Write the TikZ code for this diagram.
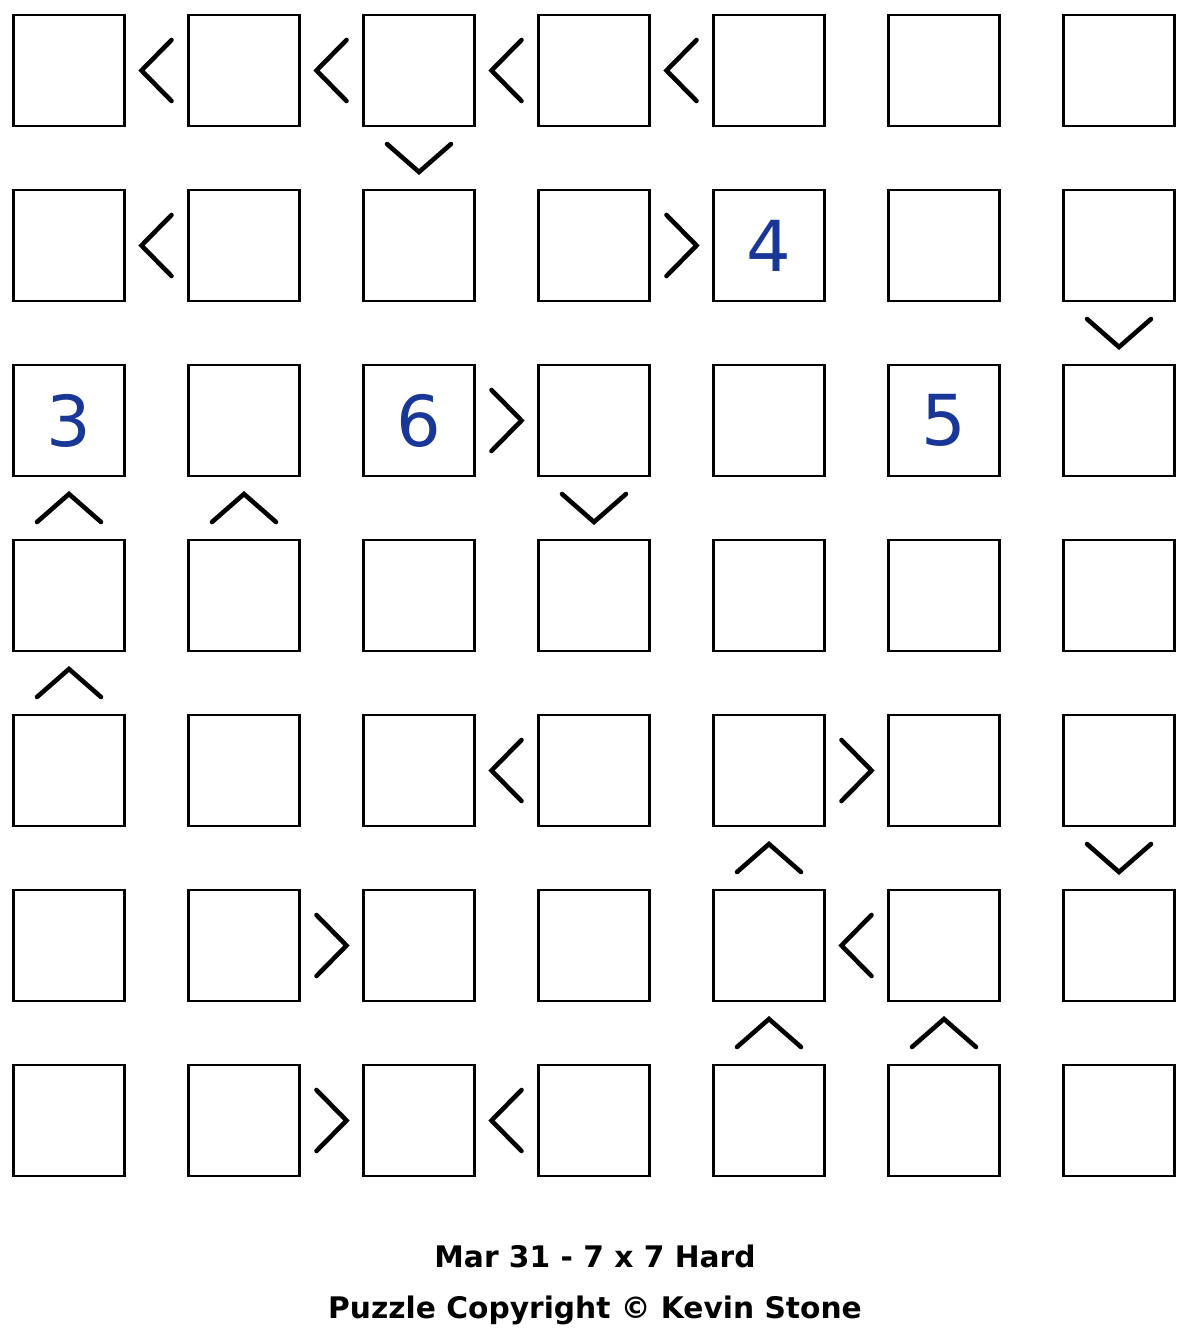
\documentclass[tikz,border=0pt]{standalone}
\usepackage{fontspec}
\setmainfont{DejaVu Sans}
\usetikzlibrary{calc}
\definecolor{givenblue}{RGB}{25,55,150}
\tikzset{
  cell/.style={draw=black, line width=1.2pt, minimum size=2.22cm, inner sep=0pt, outer sep=0pt, fill=white},
  given/.style={text=givenblue, font=\fontsize{40}{40}\selectfont},
  chev/.style={draw=black, line width=2.6pt, line cap=round, line join=miter},
  caption/.style={font=\bfseries\fontsize{16.9}{18}\selectfont, anchor=center}
}
\begin{document}
\begin{tikzpicture}[x=0.02cm, y=-0.02cm]
\useasboundingbox (0,0) rectangle (1198,1336);
\foreach \r in {0,...,6}{
  \foreach \c in {0,...,6}{
    \node[cell] (n-\r-\c) at ({69+175*\c},{70.5+175*\r}) {};
  }
}
% given numbers
\node[given] (g4) at (n-1-4) {4};
\node[given] (g3) at (n-2-0) {3};
\node[given] (g6) at (n-2-2) {6};
\node[given] (g5) at (n-2-5) {5};
% horizontal "<"
\foreach \r/\c [evaluate=\c as \d using int(\c+1)] in {0/0,0/1,0/2,0/3,1/0,4/2,5/4,6/2}{
  \coordinate (m) at ($(n-\r-\c)!0.5!(n-\r-\d)$);
  \draw[chev] ($(m)+(15,-30.5)$) -- ($(m)+(-15,0)$) -- ($(m)+(15,30.5)$);
}
% horizontal ">"
\foreach \r/\c [evaluate=\c as \d using int(\c+1)] in {1/3,2/2,4/4,5/1,6/1}{
  \coordinate (m) at ($(n-\r-\c)!0.5!(n-\r-\d)$);
  \draw[chev] ($(m)+(-15,-30.5)$) -- ($(m)+(15,0)$) -- ($(m)+(-15,30.5)$);
}
% vertical "v"
\foreach \r/\c [evaluate=\r as \s using int(\r+1)] in {0/2,1/6,2/3,4/6}{
  \coordinate (m) at ($(n-\r-\c)!0.5!(n-\s-\c)$);
  \draw[chev] ($(m)+(-32,-14)$) -- ($(m)+(0,14)$) -- ($(m)+(32,-14)$);
}
% vertical "^"
\foreach \r/\c [evaluate=\r as \s using int(\r+1)] in {2/0,2/1,3/0,4/4,5/4,5/5}{
  \coordinate (m) at ($(n-\r-\c)!0.5!(n-\s-\c)$);
  \draw[chev] ($(m)+(-32,14)$) -- ($(m)+(0,-14)$) -- ($(m)+(32,14)$);
}
\node[caption] (t1) at (595,1256) {Mar 31 - 7 x 7 Hard};
\node[caption] (t2) at (595,1310) {Puzzle Copyright © Kevin Stone};
\end{tikzpicture}
\end{document}
